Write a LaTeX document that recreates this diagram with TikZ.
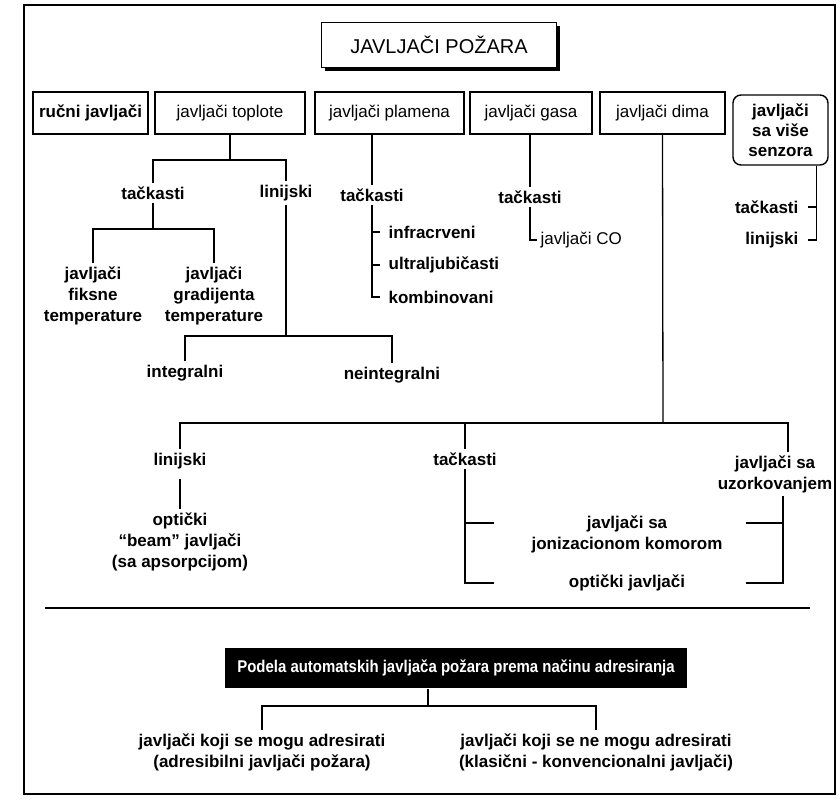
\documentclass[tikz,border=0pt]{standalone}
\usepackage{fontspec}
\setmainfont{Liberation Sans}
\newfontfamily\narrowfont[FakeStretch=0.88]{Liberation Sans}
\usetikzlibrary{positioning,calc,shadows}

\begin{document}
\begin{tikzpicture}[
	x=1pt, y=-1pt,
	font=\fontsize{17}{20}\selectfont,
	line width=1.3pt,
	box/.style={rectangle, draw, line width=1.4pt, minimum height=42pt, inner sep=2pt, align=center},
	titlebox/.style={box, minimum width=235pt, minimum height=45pt, font=\fontsize{20}{24}\selectfont, fill=white, drop shadow={shadow xshift=3pt, shadow yshift=-3pt, opacity=1, fill=black}},
	darkbox/.style={rectangle, fill=black, text=white, minimum width=462pt, minimum height=40pt, font=\fontsize{17}{20}\narrowfont\bfseries},
	lab/.style={align=center, inner sep=3pt, font=\fontsize{17}{21}\selectfont\bfseries},
	item/.style={lab, anchor=west, inner sep=0pt}
]
\useasboundingbox (0,0) rectangle (838,801);
\draw[line width=1.5pt] (24,5) rectangle (835,794);

% --- Title and groups ---
\node[titlebox] (title) at (439,45) {JAVLJAČI POŽARA};

\node[box, minimum width=115pt, font=\fontsize{17}{20}\selectfont\bfseries] (manual) at (90.5,113) {ručni javljači};
\node[box, minimum width=150pt] (heat) at (230,113) {javljači toplote};
\node[box, minimum width=149pt] (flame) at (389.5,113) {javljači plamena};
\node[box, minimum width=122pt] (gas) at (531,113) {javljači gasa};
\node[box, minimum width=125pt] (smoke) at (662.5,113) {javljači dima};
\node[box, rounded corners=8pt, minimum width=95pt, minimum height=70pt, font=\fontsize{17}{20}\selectfont\bfseries] (multi) at (780.5,130) {javljači\\sa više\\senzora};

% --- Heat detectors ---
\node[lab] (heatp) at (153,193) {tačkasti};
\node[lab] (heatl) at (286,193) {linijski};
\coordinate (h0) at (230,160);
\draw (heat.south) -- (h0);
\draw (heatp.north) |- (h0) -| (heatl.north);

\node[lab] (fixed) at (93,296) {javljači\\fiksne\\temperature};
\node[lab] (grad) at (214,296) {javljači\\gradijenta\\temperature};
\coordinate (h1) at (153,229);
\draw (heatp.south) -- (h1);
\draw (fixed.north) |- (h1) -| (grad.north);

\node[lab] (integ) at (185,373) {integralni};
\node[lab] (ninteg) at (392,375) {neintegralni};
\coordinate (h2) at (286,336);
\draw (heatl.south) -- (h2);
\draw (integ.north) |- (h2) -| (ninteg.north);

% --- Flame detectors ---
\node[lab] (flamep) at (372,195) {tačkasti};
\draw (flame.south -| flamep.north) -- (flamep.north);
\node[item] (ir) at (388,232) {infracrveni};
\node[item] (uv) at (388,265) {ultraljubičasti};
\node[item] (comb) at (388,297) {kombinovani};
\draw[shorten >=8pt] (flamep.south) |- (comb.west);
\foreach \n in {ir,uv}
  \draw[shorten >=8pt] (flamep.south |- \n.west) -- (\n.west);

% --- Gas detectors ---
\node[lab] (gasp) at (530,197) {tačkasti};
\draw (gas.south -| gasp.north) -- (gasp.north);
\node[item, font=\fontsize{17}{20}\selectfont] (co) at (540,240) {javljači CO};
\draw[shorten >=3pt] (gasp.south) |- (co.west);

% --- Multi sensor ---
\node[lab, anchor=east] (multip) at (802,207) {tačkasti};
\node[lab, anchor=east] (multil) at (802,240) {linijski};
\coordinate (m0) at ($(multi.south)+(36,0)$);
\draw[shorten >=6pt] (m0) |- (multil.east);
\draw[shorten >=6pt] (m0 |- multip.east) -- (multip.east);

% --- Smoke detectors ---
\coordinate (s0) at (663,423);
\draw (smoke.south) -- (s0);
\node[lab] (smokel) at (180,461) {linijski};
\node[lab] (smokep) at (465,459) {tačkasti};
\node[lab] (smokes) at (775,474) {javljači sa\\uzorkovanjem};
\coordinate (s1) at ($(smokes.north)+(13,0)$);
\draw (smokel.north) |- (s0) -| (s1);
\draw (smokep.north) -- (smokep.north |- s0);

\node[lab] (beam) at (180,542) {optički\\``beam'' javljači\\(sa apsorpcijom)};
\draw[shorten <=6pt] (smokel.south) -- (beam.north);

\node[lab] (ion) at (627,534) {javljači sa\\jonizacionom komorom};
\node[lab] (opt) at (627,583) {optički javljači};
\draw[shorten >=34pt] (smokep.south) |- (ion.west |- opt.west);
\draw[shorten >=34pt] (smokep.south) |- ([yshift=11pt]ion.west);
\draw[shorten >=20pt] ([xshift=8pt]smokes.south) |- (ion.east |- opt.east);
\draw[shorten >=20pt] ([xshift=8pt]smokes.south) |- ([yshift=11pt]ion.east);

% --- Addressing ---
\draw (45,608) -- (810,608);
\node[darkbox] (addr) at (456,668) {Podela automatskih javljača požara prema načinu adresiranja};
\coordinate (a0) at (428,706);
\draw (addr.south -| a0) -- (a0);
\node[lab] (yes) at (262,752) {javljači koji se mogu adresirati\\(adresibilni javljači požara)};
\node[lab] (no) at (596,752) {javljači koji se ne mogu adresirati\\(klasični - konvencionalni javljači)};
\draw (yes.north) |- (a0) -| (no.north);

\end{tikzpicture}
\end{document}
